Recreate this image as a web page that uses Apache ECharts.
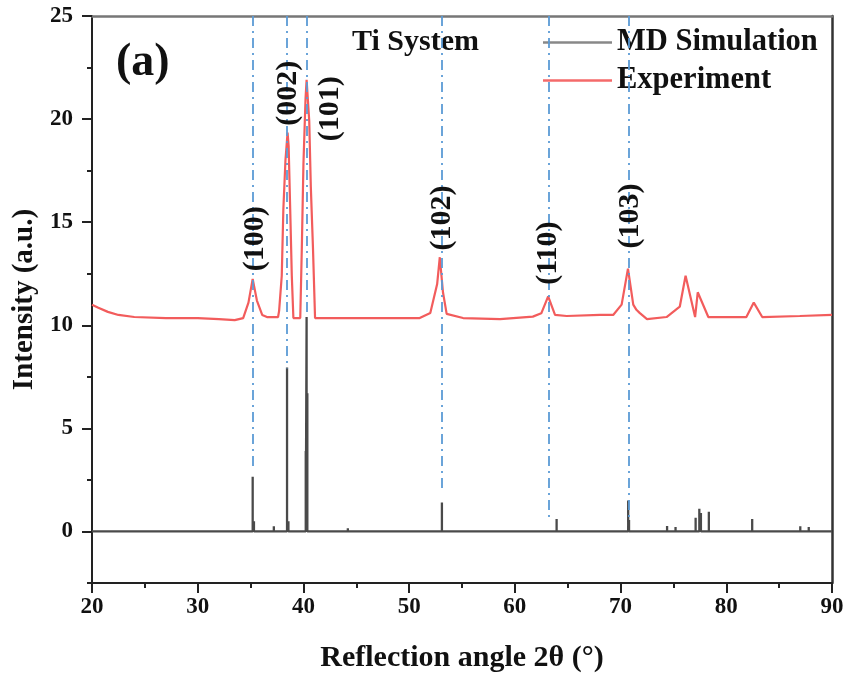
<!DOCTYPE html>
<html>
<head>
<meta charset="utf-8">
<script src="https://cdn.jsdelivr.net/npm/echarts@6/dist/echarts.min.js"></script>
<style>html,body{margin:0;padding:0;background:#fff}#c{width:848px;height:674px}</style>
</head>
<body>
<div id="c"></div>
<script>
// Experiment curve
const expX = [20, 20.6, 21.5, 22.5, 24, 27, 30, 32, 33.5, 34.3, 34.8, 35.2, 35.6, 36.1, 36.55, 37.6, 37.7, 37.95, 38.1, 38.3, 38.5, 38.6, 38.75, 38.9, 39.05, 39.7, 39.85, 40.0, 40.2, 40.3, 40.55, 40.7, 40.9, 41.1, 43, 46, 49, 51.0, 52.0, 52.65, 52.9, 53.2, 53.55, 55.1, 58.6, 61.7, 62.5, 63.15, 63.8, 64.9, 68.05, 69.3, 70.1, 70.7, 71.2, 71.5, 71.8, 72.5, 74.35, 75.6, 76.15, 77.05, 77.3, 78.3, 81.9, 82.6, 83.4, 86.95, 90];
const expY = [11.0, 10.85, 10.65, 10.5, 10.4, 10.35, 10.35, 10.3, 10.25, 10.35, 11.1, 12.25, 11.2, 10.5, 10.4, 10.4, 10.7, 12.4, 15.6, 18.0, 19.35, 18.7, 15.6, 12.4, 10.35, 10.35, 13.8, 17.8, 21.0, 21.9, 19.9, 16.7, 13.8, 10.35, 10.35, 10.35, 10.35, 10.35, 10.6, 12.0, 13.3, 11.6, 10.55, 10.35, 10.3, 10.42, 10.58, 11.4, 10.5, 10.45, 10.5, 10.5, 11.0, 12.75, 11.0, 10.75, 10.6, 10.3, 10.4, 10.9, 12.4, 10.4, 11.6, 10.4, 10.4, 11.1, 10.4, 10.45, 10.5];
// MD simulation stick peaks
const mdX = [31.8, 35.2, 35.32, 37.2, 38.45, 38.58, 40.22, 40.3, 40.37, 44.2, 53.1, 63.95, 70.72, 70.8, 74.4, 75.2, 77.1, 77.45, 77.6, 78.35, 82.45, 87.0, 87.8];
const mdY = [0.05, 2.65, 0.5, 0.25, 7.95, 0.5, 3.9, 10.4, 6.7, 0.15, 1.4, 0.6, 1.5, 0.55, 0.27, 0.22, 0.66, 1.1, 0.9, 0.95, 0.6, 0.25, 0.22];
// Reference (dash-dot) lines
const refX = [35.2, 38.45, 40.3, 53.1, 63.2, 70.75];
const refEnd = [3.1, 7.9, 10.4, 2.0, 0.6, 0.5];
const refTop = 25;
// Peak labels
const peakNames = ['(100)', '(002)', '(101)', '(102)', '(110)', '(103)'];
const labelX = [35.4, 38.6, 42.5, 53.15, 63.15, 70.9];
const labelY = [14.2, 21.25, 20.5, 15.2, 13.5, 15.3];
// Axis ticks
const yMajor = [0, 5, 10, 15, 20, 25];
const yMinor = [-2.5, 2.5, 7.5, 12.5, 17.5, 22.5];

const FONT = "'Liberation Serif','Times New Roman',serif";
const expData = expX.map((x, i) => [x, expY[i]]);
const mdData = [[20, 0]];
mdX.forEach((x, i) => { mdData.push([x, 0], [x, mdY[i]], [x, 0]); });
mdData.push([90, 0]);
const labelData = labelX.map((x, i) => ({ value: [x, labelY[i]], name: peakNames[i] }));
const refLines = refX.map((x, i) => [{ coord: [x, refTop] }, { coord: [x, refEnd[i]] }]);

const chart = echarts.init(document.getElementById('c'));
chart.setOption({
  animation: false,
  backgroundColor: '#fff',
  grid: { left: 92, right: 16, top: 16, bottom: 91, containLabel: false, outerBoundsMode: 'none' },
  xAxis: [{
    type: 'value', min: 20, max: 90, interval: 10, position: 'bottom',
    name: 'Reflection angle 2θ (°)', nameLocation: 'middle', nameGap: 60,
    nameTextStyle: { fontFamily: FONT, fontWeight: 'bold', fontSize: 30, color: '#111' },
    axisLine: { onZero: false, lineStyle: { color: '#222', width: 2 } },
    axisTick: { length: 10, lineStyle: { color: '#222', width: 2 } },
    minorTick: { show: true, splitNumber: 2, length: 5, lineStyle: { color: '#222', width: 2 } },
    splitLine: { show: false },
    axisLabel: { margin: 13, fontFamily: FONT, fontWeight: 'bold', fontSize: 23, color: '#111' }
  }, {
    type: 'value', min: 20, max: 90, position: 'top',
    axisLine: { onZero: false, lineStyle: { color: '#777', width: 2.5 } },
    axisTick: { show: false }, axisLabel: { show: false }, splitLine: { show: false }
  }],
  yAxis: [{
    type: 'value', min: -2.5, max: 25, position: 'left',
    name: 'Intensity (a.u.)', nameLocation: 'middle', nameGap: 52, nameRotate: 90,
    nameTextStyle: { fontFamily: FONT, fontWeight: 'bold', fontSize: 29, color: '#111' },
    axisLine: { onZero: false, lineStyle: { color: '#222', width: 2 } },
    axisTick: { customValues: yMajor, length: 10, lineStyle: { color: '#222', width: 2 } },
    splitLine: { show: false },
    axisLabel: { customValues: yMajor, margin: 19, fontFamily: FONT, fontWeight: 'bold', fontSize: 23, color: '#111' }
  }, {
    type: 'value', min: -2.5, max: 25, position: 'right',
    axisLine: { onZero: false, lineStyle: { color: '#333', width: 2.5 } },
    axisTick: { show: false }, axisLabel: { show: false }, splitLine: { show: false }
  }, {
    type: 'value', min: -2.5, max: 25, position: 'left', offset: 0,
    axisLine: { show: false },
    axisTick: { customValues: yMinor, length: 5, lineStyle: { color: '#222', width: 2 } },
    axisLabel: { show: false }, splitLine: { show: false }
  }],
  legend: {
    orient: 'vertical', left: 543, top: 27, padding: 0, itemWidth: 69, itemHeight: 14, itemGap: 7,
    icon: 'path://M0,6 L69,6 L69,8.5 L0,8.5 Z',
    textStyle: { fontFamily: FONT, fontWeight: 'bold', fontSize: 30.5, color: '#111', lineHeight: 30 },
    data: [
      { name: 'MD Simulation', itemStyle: { color: '#888' } },
      { name: 'Experiment', itemStyle: { color: '#f46a6a' } }
    ]
  },
  graphic: [
    { type: 'text', left: 352, top: 27, style: { text: 'Ti System', font: "bold 30px 'Liberation Serif', serif", fill: '#111' } },
    { type: 'text', left: 116, top: 40, style: { text: '(a)', font: "bold 46px 'Liberation Serif', serif", fill: '#111' } }
  ],
  series: [
    {
      name: 'Experiment', type: 'line', data: expData, symbol: 'none', z: 3,
      lineStyle: { color: '#f25c5c', width: 2.2 }, itemStyle: { color: '#f25c5c' }
    },
    {
      name: 'MD Simulation', type: 'line', data: mdData, symbol: 'none', z: 4,
      lineStyle: { color: '#4a4a4a', width: 2.3 }, itemStyle: { color: '#4a4a4a' }
    },
    {
      name: 'refs', type: 'line', data: [], z: 5,
      markLine: {
        silent: true, symbol: ['none', 'none'], label: { show: false },
        lineStyle: { color: '#5b9bd5', width: 1.8, type: [10, 5, 2, 5] },
        data: refLines
      }
    },
    {
      name: 'labels', type: 'scatter', data: labelData, symbolSize: 0, z: 6,
      itemStyle: { color: '#111', opacity: 1 },
      label: {
        show: true, position: 'inside', rotate: 90, formatter: p => p.name,
        fontFamily: FONT, fontWeight: 'bold', fontSize: 30, color: '#111', opacity: 1,
        textBorderWidth: 0, textBorderColor: 'transparent'
      }
    }
  ]
});
</script>
</body>
</html>
